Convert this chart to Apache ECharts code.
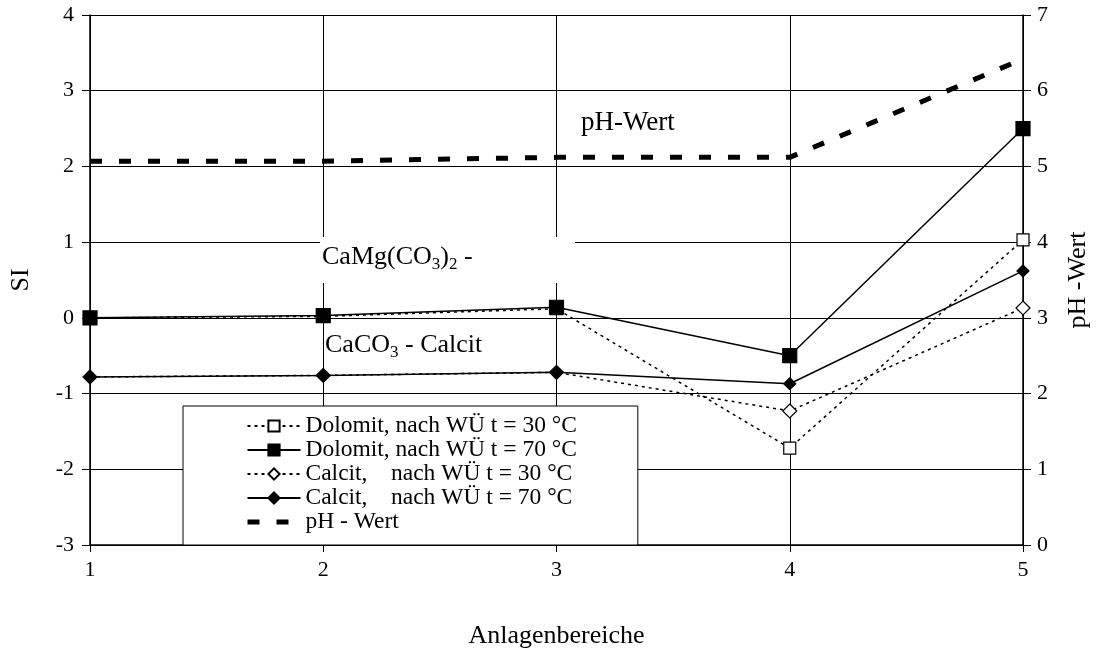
<!DOCTYPE html>
<html>
<head>
<meta charset="utf-8">
<title>SI und pH-Wert</title>
<script src="https://cdn.jsdelivr.net/npm/echarts@6/dist/echarts.min.js"></script>
<style>
  html, body { margin: 0; padding: 0; background: #fff; }
  #main { width: 1096px; height: 652px; }
</style>
</head>
<body>
<div id="main"></div>
<script>
// Anlagenbereiche (x-Achse)
var bereiche = ['1', '2', '3', '4', '5'];

// Saettigungsindex SI (linke Achse)
var dolomit30 = [0.0, 0.02, 0.12, -1.72, 1.03];
var dolomit70 = [0.0, 0.03, 0.14, -0.50, 2.50];
var calcit30 = [-0.78, -0.76, -0.72, -1.23, 0.13];
var calcit70 = [-0.78, -0.76, -0.72, -0.87, 0.62];

// pH-Wert (rechte Achse)
var phWert = [5.07, 5.07, 5.12, 5.12, 6.42];

var FONT = "'Liberation Serif', 'Times New Roman', serif";

var chart = echarts.init(document.getElementById('main'));

function lineSeries(name, data, symbol, size, filled, dotted) {
  return {
    name: name,
    type: 'line',
    data: data,
    yAxisIndex: 0,
    symbol: symbol,
    symbolSize: size,
    showAllSymbol: true,
    z: 3,
    lineStyle: { color: '#000', width: 1.5, type: dotted ? [3, 4] : 'solid' },
    itemStyle: { color: filled ? '#000' : '#fff', borderColor: '#000', borderWidth: 1.2 }
  };
}

var subRich = {
  n: { fontFamily: FONT, fontSize: 26, fill: '#000', lineHeight: 30, verticalAlign: 'bottom' },
  s: { fontFamily: FONT, fontSize: 17, fill: '#000', lineHeight: 30, verticalAlign: 'bottom', padding: [0, 0, -3, 0] }
};

var option = {
  backgroundColor: '#fff',
  animation: false,
  textStyle: { fontFamily: FONT, color: '#000' },
  grid: { left: 90, right: 73, top: 15, bottom: 107, containLabel: false, outerBoundsMode: 'none' },
  legend: {
    orient: 'vertical',
    left: 183,
    top: 406,
    padding: [8, 61, 11, 62],
    itemGap: 0,
    itemWidth: 53,
    itemHeight: 14,
    backgroundColor: '#fff',
    borderColor: '#000',
    borderWidth: 1,
    textStyle: { fontFamily: FONT, fontSize: 23.5, lineHeight: 24, color: '#000' },
    data: [
      'Dolomit, nach WÜ t = 30 °C',
      'Dolomit, nach WÜ t = 70 °C',
      'Calcit,    nach WÜ t = 30 °C',
      'Calcit,    nach WÜ t = 70 °C',
      {
        name: 'pH - Wert',
        itemStyle: { color: 'rgba(0,0,0,0)', borderColor: 'rgba(0,0,0,0)', borderWidth: 0 },
        lineStyle: { color: '#000', width: 5, type: [12, 17] }
      }
    ]
  },
  xAxis: {
    type: 'category',
    data: bereiche,
    boundaryGap: false,
    name: 'Anlagenbereiche',
    nameLocation: 'middle',
    nameGap: 78,
    nameTextStyle: { fontFamily: FONT, fontSize: 26, color: '#000' },
    axisLine: { onZero: false, lineStyle: { color: '#000', width: 1.5 } },
    axisTick: { show: true, length: 7, lineStyle: { color: '#000' } },
    axisLabel: { fontFamily: FONT, fontSize: 22, color: '#000', margin: 14 },
    splitLine: { show: true, lineStyle: { color: '#000', width: 1 } }
  },
  yAxis: [
    {
      type: 'value',
      min: -3,
      max: 4,
      interval: 1,
      name: 'SI',
      nameLocation: 'middle',
      nameGap: 56,
      nameRotate: 90,
      nameTextStyle: { fontFamily: FONT, fontSize: 26, color: '#000' },
      axisLine: { show: true, lineStyle: { color: '#000', width: 1.5 } },
      axisTick: { show: true, length: 8, lineStyle: { color: '#000' } },
      axisLabel: { fontFamily: FONT, fontSize: 22, color: '#000', margin: 16 },
      splitLine: { show: true, lineStyle: { color: '#000', width: 1 } }
    },
    {
      type: 'value',
      min: 0,
      max: 7,
      interval: 1,
      position: 'right',
      name: 'pH -Wert',
      nameLocation: 'middle',
      nameGap: 42,
      nameRotate: 90,
      nameTextStyle: { fontFamily: FONT, fontSize: 26, color: '#000' },
      axisLine: { show: true, lineStyle: { color: '#000', width: 1.5 } },
      axisTick: { show: true, length: 8, lineStyle: { color: '#000' } },
      axisLabel: { fontFamily: FONT, fontSize: 22, color: '#000', margin: 14 },
      splitLine: { show: false }
    }
  ],
  graphic: [
    // weisser Hintergrund hinter der Beschriftung
    { type: 'rect', left: 320, top: 237, shape: { width: 255, height: 46 }, style: { fill: '#fff' }, z: 1 },
    {
      type: 'text', left: 322, top: 244, z: 5,
      style: { text: '{n|CaMg(CO}{s|3}{n|)}{s|2}{n| -}', rich: subRich }
    },
    {
      type: 'text', left: 325, top: 332, z: 5,
      style: { text: '{n|CaCO}{s|3}{n| - Calcit}', rich: subRich }
    },
    {
      type: 'text', left: 581, top: 109, z: 5,
      style: { text: 'pH-Wert', fontFamily: FONT, fontSize: 27, fill: '#000' }
    }
  ],
  series: [
    lineSeries('Dolomit, nach WÜ t = 30 °C', dolomit30, 'rect', 12, false, true),
    lineSeries('Dolomit, nach WÜ t = 70 °C', dolomit70, 'rect', 14, true, false),
    lineSeries('Calcit,    nach WÜ t = 30 °C', calcit30, 'diamond', 14, false, true),
    lineSeries('Calcit,    nach WÜ t = 70 °C', calcit70, 'diamond', 12, true, false),
    {
      name: 'pH - Wert',
      type: 'line',
      data: phWert,
      yAxisIndex: 1,
      symbol: 'none',
      z: 3,
      lineStyle: { color: '#000', width: 5, type: [12, 17] },
      itemStyle: { color: '#000' }
    }
  ]
};

chart.setOption(option);
</script>
</body>
</html>
